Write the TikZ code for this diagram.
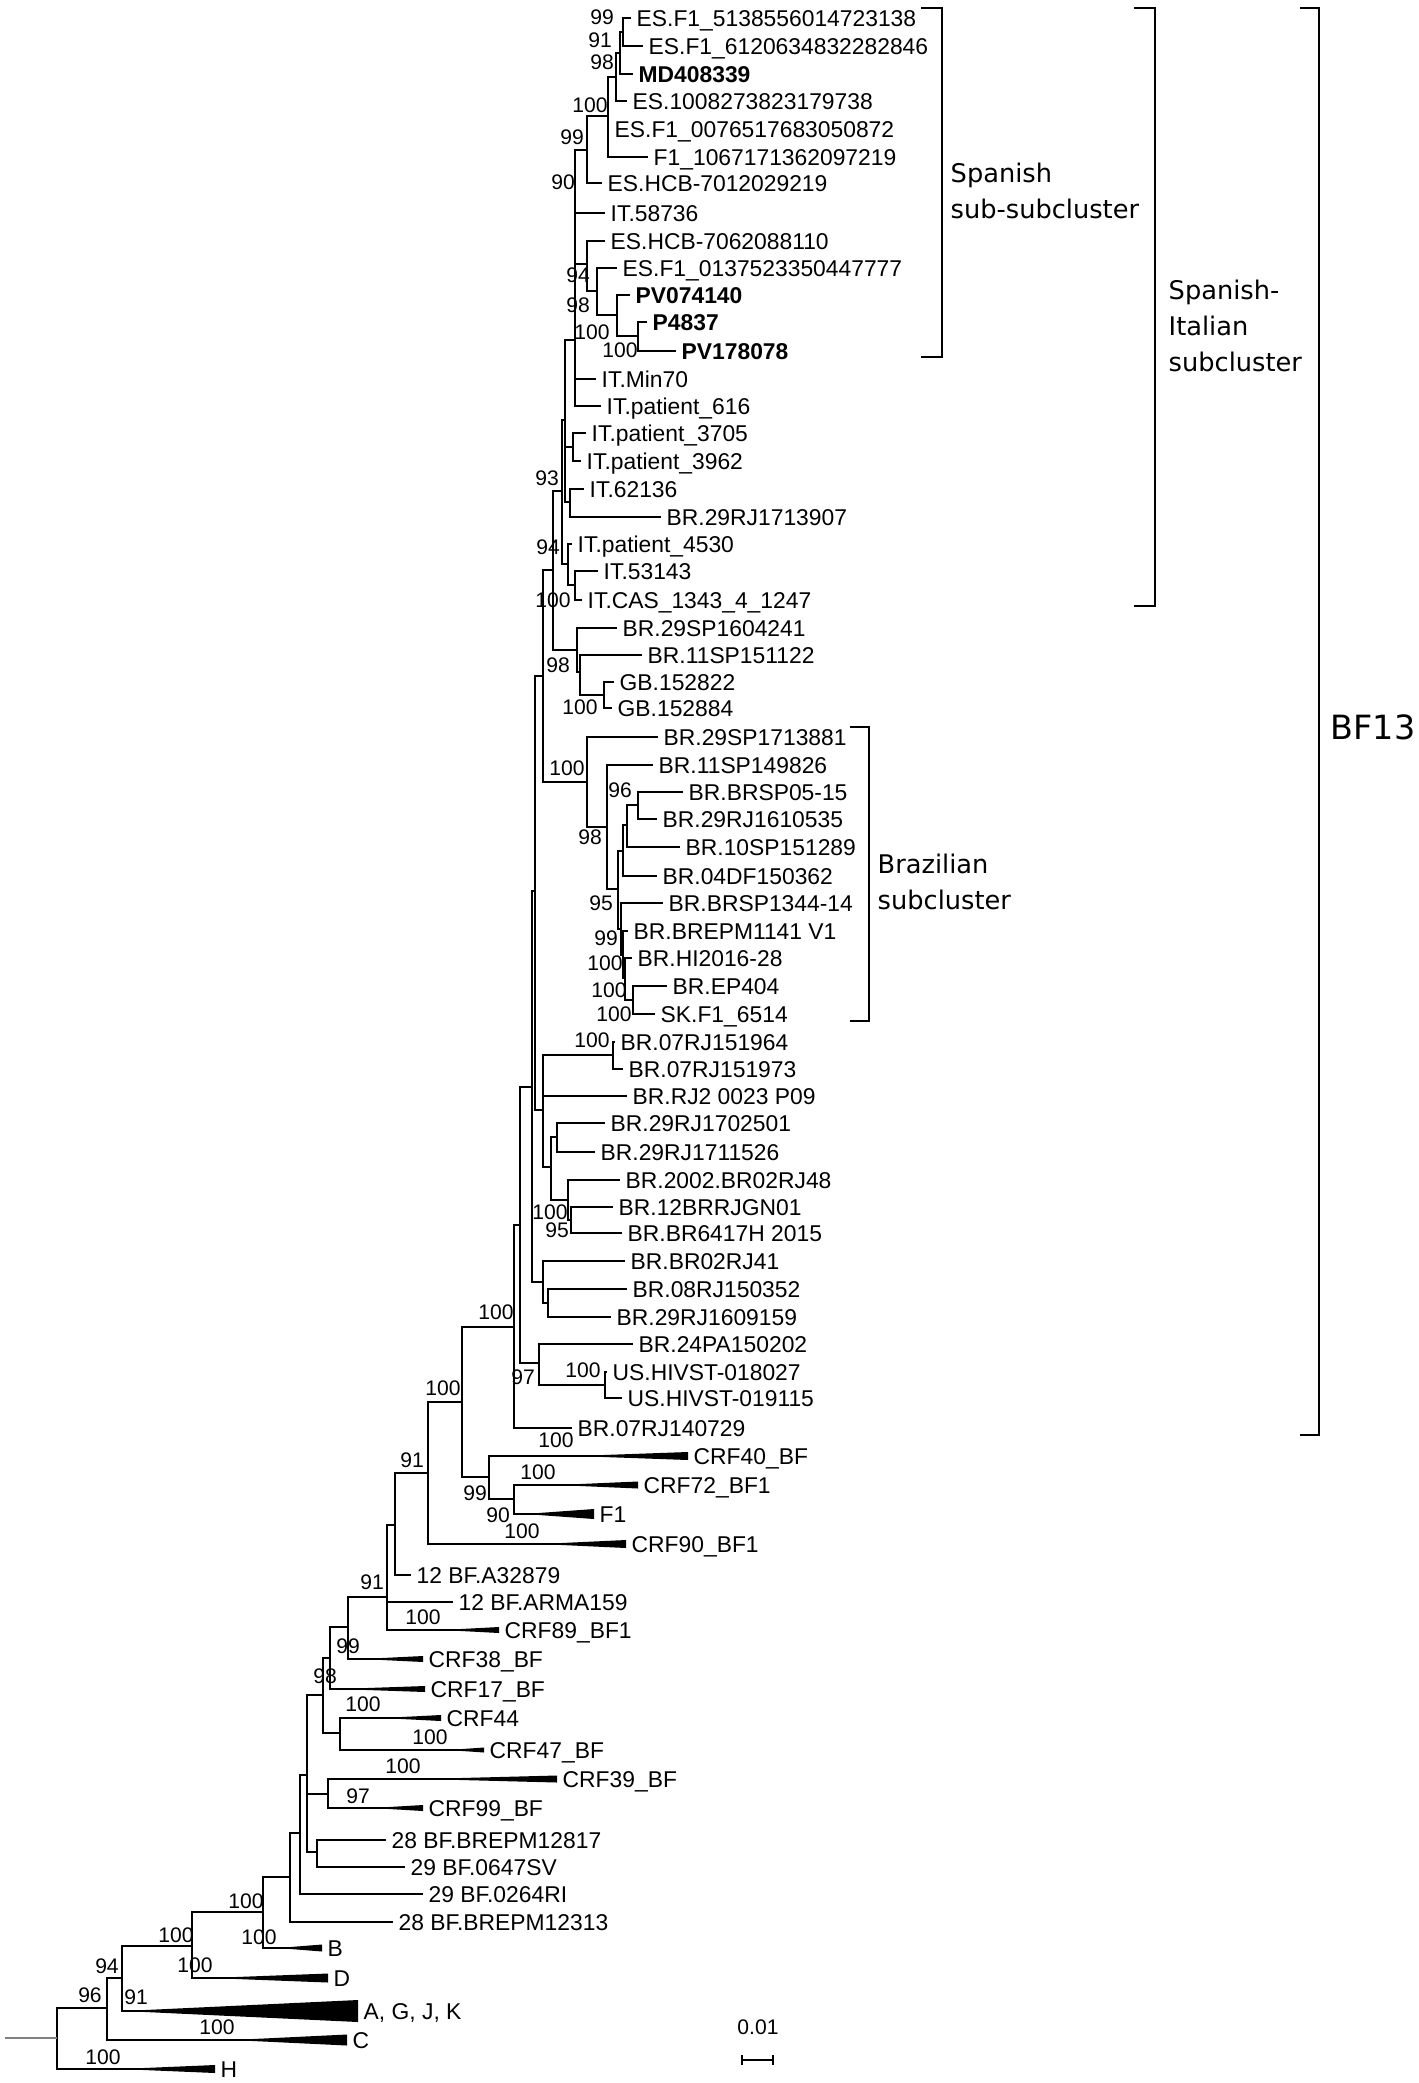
\documentclass[tikz,border=0pt]{standalone}
\usepackage{fontspec}
\setmainfont{Liberation Sans}
\newfontfamily\cladefont{DejaVu Sans}
\tikzset{branch/.style={line width=0.6pt},
	leaf/.style={anchor=west, inner xsep=0.5mm, inner ysep=0pt, text height=1.64mm, text depth=0pt, font=\fontsize{6.5}{7}\selectfont},
	boot/.style={inner sep=0pt, font=\fontsize{6}{7}\selectfont},
	bracket/.style={line width=0.7pt},
	clade/.style={anchor=west, align=left, inner sep=0pt, font=\cladefont\fontsize{7.3}{10.2}\selectfont}}

\begin{document}
\begin{tikzpicture}[x=0.1mm, y=-0.1mm]
		\useasboundingbox (0,0) rectangle (1418,2083);

		% internal nodes
		\coordinate (root) at (57,2038);
		\coordinate (stem) at (5,2038);
		\coordinate (n96) at (107,2008);
		\coordinate (n94) at (122,1978);
		\coordinate (n100a) at (192,1946);
		\coordinate (n100b) at (263,1912);
		\coordinate (na) at (290,1877);
		\coordinate (nb) at (300,1833);
		\coordinate (nc) at (307,1775);
		\coordinate (nd) at (317,1852);
		\coordinate (ne) at (328,1794);
		\coordinate (nf) at (323,1695);
		\coordinate (ng) at (340,1733);
		\coordinate (nh) at (330,1658);
		\coordinate (ni) at (348,1627);
		\coordinate (nj) at (387,1597);
		\coordinate (nk) at (395,1525);
		\coordinate (nl) at (428,1473);
		\coordinate (nm) at (462,1402);
		\coordinate (nn) at (489,1477);
		\coordinate (no) at (514,1499);
		\coordinate (np) at (514,1327);
		\coordinate (nr) at (520,1225);
		\coordinate (nq) at (539,1363);
		\coordinate (nus) at (605,1385);
		\coordinate (nK) at (532,1087);
		\coordinate (ny) at (543,1282);
		\coordinate (nz) at (548,1303);
		\coordinate (nJ) at (535,891);
		\coordinate (nM) at (543,1110);
		\coordinate (n07) at (613,1055);
		\coordinate (nN) at (551,1167);
		\coordinate (nrj) at (557,1137);
		\coordinate (nbr) at (568,1200);
		\coordinate (nw) at (571,1220);
		\coordinate (nB) at (543,676);
		\coordinate (nx) at (553,570);
		\coordinate (nt) at (577,650);
		\coordinate (nu) at (580,672);
		\coordinate (nv) at (604,695);
		\coordinate (nbrz) at (587,782);
		\coordinate (nb2) at (607,827);
		\coordinate (nL4) at (618,889);
		\coordinate (nc2) at (623,851);
		\coordinate (nc1) at (627,825);
		\coordinate (nsp) at (638,805);
		\coordinate (nL3) at (621,929);
		\coordinate (nL2) at (623,955);
		\coordinate (nL1) at (625,978);
		\coordinate (nep) at (633,1000);
		\coordinate (nSI) at (562,491);
		\coordinate (nD) at (568,564);
		\coordinate (n18) at (575,585);
		\coordinate (nC) at (565,420);
		\coordinate (n15) at (573,447);
		\coordinate (n16) at (570,502);
		\coordinate (nE) at (575,340);
		\coordinate (n13) at (587,264);
		\coordinate (n12) at (597,291);
		\coordinate (n11) at (617,315);
		\coordinate (n10) at (638,336);
		\coordinate (n5) at (587,150);
		\coordinate (n4) at (608,116);
		\coordinate (n3) at (616,77);
		\coordinate (n2) at (620,53);
		\coordinate (n1) at (623,32);

		% taxa
		\node[leaf] (es513) at (631,18) {ES.F1\_5138556014723138};
		\node[leaf] (es612) at (643,46) {ES.F1\_6120634832282846};
		\node[leaf] (md408) at (633,74) {\bfseries MD408339};
		\node[leaf] (es1008) at (627,101) {ES.1008273823179738};
		\node[leaf] (es0076) at (609,129) {ES.F1\_0076517683050872};
		\node[leaf] (f1067) at (648,157) {F1\_1067171362097219};
		\node[leaf] (hcb7012) at (602,183) {ES.HCB-7012029219};
		\node[leaf] (it58736) at (605,213) {IT.58736};
		\node[leaf] (hcb7062) at (605,241) {ES.HCB-7062088110};
		\node[leaf] (es0137) at (617,268) {ES.F1\_0137523350447777};
		\node[leaf] (pv074) at (630,295) {\bfseries PV074140};
		\node[leaf] (p4837) at (647,322) {\bfseries P4837};
		\node[leaf] (pv178) at (676,351) {\bfseries PV178078};
		\node[leaf] (itmin70) at (596,379) {IT.Min70};
		\node[leaf] (it616) at (601,406) {IT.patient\_616};
		\node[leaf] (it3705) at (586,433) {IT.patient\_3705};
		\node[leaf] (it3962) at (581,461) {IT.patient\_3962};
		\node[leaf] (it62136) at (584,489) {IT.62136};
		\node[leaf] (br1713907) at (661,517) {BR.29RJ1713907};
		\node[leaf] (it4530) at (572,544) {IT.patient\_4530};
		\node[leaf] (it53143) at (598,571) {IT.53143};
		\node[leaf] (itcas) at (582,600) {IT.CAS\_1343\_4\_1247};
		\node[leaf] (br1604241) at (617,628) {BR.29SP1604241};
		\node[leaf] (br151122) at (642,655) {BR.11SP151122};
		\node[leaf] (gb822) at (614,682) {GB.152822};
		\node[leaf] (gb884) at (612,708) {GB.152884};
		\node[leaf] (br1713881) at (658,737) {BR.29SP1713881};
		\node[leaf] (br149826) at (653,765) {BR.11SP149826};
		\node[leaf] (brsp0515) at (683,792) {BR.BRSP05-15};
		\node[leaf] (br1610535) at (657,819) {BR.29RJ1610535};
		\node[leaf] (br151289) at (680,847) {BR.10SP151289};
		\node[leaf] (br150362) at (657,876) {BR.04DF150362};
		\node[leaf] (brsp134414) at (663,903) {BR.BRSP1344-14};
		\node[leaf] (brepm1141) at (628,931) {BR.BREPM1141 V1};
		\node[leaf] (brhi2016) at (632,958) {BR.HI2016-28};
		\node[leaf] (brep404) at (667,986) {BR.EP404};
		\node[leaf] (sk6514) at (655,1014) {SK.F1\_6514};
		\node[leaf] (br151964) at (615,1042) {BR.07RJ151964};
		\node[leaf] (br151973) at (623,1069) {BR.07RJ151973};
		\node[leaf] (brrj2) at (627,1096) {BR.RJ2 0023 P09};
		\node[leaf] (br1702501) at (605,1123) {BR.29RJ1702501};
		\node[leaf] (br1711526) at (595,1152) {BR.29RJ1711526};
		\node[leaf] (br02rj48) at (620,1180) {BR.2002.BR02RJ48};
		\node[leaf] (brrjgn01) at (613,1207) {BR.12BRRJGN01};
		\node[leaf] (br6417h) at (622,1233) {BR.BR6417H 2015};
		\node[leaf] (br02rj41) at (625,1261) {BR.BR02RJ41};
		\node[leaf] (br150352) at (627,1289) {BR.08RJ150352};
		\node[leaf] (br1609159) at (611,1317) {BR.29RJ1609159};
		\node[leaf] (br150202) at (633,1344) {BR.24PA150202};
		\node[leaf] (us018027) at (607,1372) {US.HIVST-018027};
		\node[leaf] (us019115) at (622,1398) {US.HIVST-019115};
		\node[leaf] (br140729) at (572,1428) {BR.07RJ140729};
		\node[leaf] (crf40) at (688,1456) {CRF40\_BF};
		\node[leaf] (crf72) at (638,1485) {CRF72\_BF1};
		\node[leaf] (f1) at (594,1514) {F1};
		\node[leaf] (crf90) at (626,1544) {CRF90\_BF1};
		\node[leaf] (a32879) at (411,1575) {12 BF.A32879};
		\node[leaf] (arma159) at (453,1602) {12 BF.ARMA159};
		\node[leaf] (crf89) at (499,1630) {CRF89\_BF1};
		\node[leaf] (crf38) at (423,1659) {CRF38\_BF};
		\node[leaf] (crf17) at (425,1689) {CRF17\_BF};
		\node[leaf] (crf44) at (441,1718) {CRF44};
		\node[leaf] (crf47) at (484,1750) {CRF47\_BF};
		\node[leaf] (crf39) at (557,1779) {CRF39\_BF};
		\node[leaf] (crf99) at (423,1808) {CRF99\_BF};
		\node[leaf] (brepm12817) at (386,1840) {28 BF.BREPM12817};
		\node[leaf] (bf0647) at (405,1867) {29 BF.0647SV};
		\node[leaf] (bf0264) at (423,1894) {29 BF.0264RI};
		\node[leaf] (brepm12313) at (393,1922) {28 BF.BREPM12313};
		\node[leaf] (cladeB) at (322,1948) {B};
		\node[leaf] (cladeD) at (328,1978) {D};
		\node[leaf] (cladeAGJK) at (358,2011) {A, G, J, K};
		\node[leaf] (cladeC) at (347,2040) {C};
		\node[leaf] (cladeH) at (215,2069) {H};

		% branches
		\draw[branch] (n1) |- (es513) (n1) |- (es612);
		\draw[branch] (n2) |- (n1) (n2) |- (md408);
		\draw[branch] (n3) |- (n2) (n3) |- (es1008);
		\draw[branch] (n4) |- (n3) (n4) |- (es0076) (n4) |- (f1067);
		\draw[branch] (n5) |- (n4) (n5) |- (hcb7012);
		\draw[branch] (n10) |- (p4837) (n10) |- (pv178);
		\draw[branch] (n11) |- (pv074) (n11) |- (n10);
		\draw[branch] (n12) |- (es0137) (n12) |- (n11);
		\draw[branch] (n13) |- (hcb7062) (n13) |- (n12);
		\draw[branch] (nE) |- (n5) (nE) |- (it58736) (nE) |- (n13) (nE) |- (itmin70) (nE) |- (it616);
		\draw[branch] (n15) |- (it3705) (n15) |- (it3962);
		\draw[branch] (n16) |- (it62136) (n16) |- (br1713907);
		\draw[branch] (nC) |- (nE) (nC) |- (n15) (nC) |- (n16);
		\draw[branch] (n18) |- (it53143) (n18) |- (itcas);
		\draw[branch] (nD) |- (it4530) (nD) |- (n18);
		\draw[branch] (nSI) |- (nC) (nSI) |- (nD);
		\draw[branch] (nv) |- (gb822) (nv) |- (gb884);
		\draw[branch] (nu) |- (br151122) (nu) |- (nv);
		\draw[branch] (nt) |- (br1604241) (nt) |- (nu);
		\draw[branch] (nx) |- (nSI) (nx) |- (nt);
		\draw[branch] (nsp) |- (brsp0515) (nsp) |- (br1610535);
		\draw[branch] (nc1) |- (nsp) (nc1) |- (br151289);
		\draw[branch] (nc2) |- (nc1) (nc2) |- (br150362);
		\draw[branch] (nep) |- (brep404) (nep) |- (sk6514);
		\draw[branch] (nL1) |- (brhi2016) (nL1) |- (nep);
		\draw[branch] (nL2) |- (brepm1141) (nL2) |- (nL1);
		\draw[branch] (nL3) |- (brsp134414) (nL3) |- (nL2);
		\draw[branch] (nL4) |- (nc2) (nL4) |- (nL3);
		\draw[branch] (nb2) |- (br149826) (nb2) |- (nL4);
		\draw[branch] (nbrz) |- (br1713881) (nbrz) |- (nb2);
		\draw[branch] (nB) |- (nx) (nB) |- (nbrz);
		\draw[branch] (n07) |- (br151964) (n07) |- (br151973);
		\draw[branch] (nrj) |- (br1702501) (nrj) |- (br1711526);
		\draw[branch] (nw) |- (brrjgn01) (nw) |- (br6417h);
		\draw[branch] (nbr) |- (br02rj48) (nbr) |- (nw);
		\draw[branch] (nN) |- (nrj) (nN) |- (nbr);
		\draw[branch] (nM) |- (n07) (nM) |- (brrj2) (nM) |- (nN);
		\draw[branch] (nJ) |- (nB) (nJ) |- (nM);
		\draw[branch] (nz) |- (br150352) (nz) |- (br1609159);
		\draw[branch] (ny) |- (br02rj41) (ny) |- (nz);
		\draw[branch] (nK) |- (nJ) (nK) |- (ny);
		\draw[branch] (nus) |- (us018027) (nus) |- (us019115);
		\draw[branch] (nq) |- (br150202) (nq) |- (nus);
		\draw[branch] (nr) |- (nK) (nr) |- (nq);
		\draw[branch] (np) |- (nr) (np) |- (br140729);
		\draw[branch] (no) |- (crf72) (no) |- (f1);
		\draw[branch] (nn) |- (crf40) (nn) |- (no);
		\draw[branch] (nm) |- (np) (nm) |- (nn);
		\draw[branch] (nl) |- (nm) (nl) |- (crf90);
		\draw[branch] (nk) |- (nl) (nk) |- (a32879);
		\draw[branch] (nj) |- (nk) (nj) |- (arma159) (nj) |- (crf89);
		\draw[branch] (ni) |- (nj) (ni) |- (crf38);
		\draw[branch] (nh) |- (ni) (nh) |- (crf17);
		\draw[branch] (ng) |- (crf44) (ng) |- (crf47);
		\draw[branch] (nf) |- (nh) (nf) |- (ng);
		\draw[branch] (ne) |- (crf39) (ne) |- (crf99);
		\draw[branch] (nd) |- (brepm12817) (nd) |- (bf0647);
		\draw[branch] (nc) |- (nf) (nc) |- (ne) (nc) |- (nd);
		\draw[branch] (nb) |- (nc) (nb) |- (bf0264);
		\draw[branch] (na) |- (nb) (na) |- (brepm12313);
		\draw[branch] (n100b) |- (na) (n100b) |- (cladeB);
		\draw[branch] (n100a) |- (n100b) (n100a) |- (cladeD);
		\draw[branch] (n94) |- (n100a) (n94) |- (cladeAGJK);
		\draw[branch] (n96) |- (n94) (n96) |- (cladeC);
		\draw[branch] (root) |- (n96) (root) |- (cladeH);
		\draw[branch, gray] (stem) -- (root);

		% collapsed subtrees
		\coordinate (w40) at (575,1456);
		\coordinate (w72) at (557,1485);
		\coordinate (wf1) at (525,1514);
		\coordinate (w90) at (540,1544);
		\coordinate (w89) at (442,1630);
		\coordinate (w38) at (362,1659);
		\coordinate (w17) at (338,1689);
		\coordinate (w44) at (382,1718);
		\coordinate (w47) at (448,1750);
		\coordinate (w39) at (422,1779);
		\coordinate (w99) at (372,1808);
		\coordinate (wB) at (278,1948);
		\coordinate (wD) at (210,1978);
		\coordinate (wAGJK) at (124,2011);
		\coordinate (wC) at (232,2040);
		\coordinate (wH) at (120,2069);
		\fill (w40) -- ([yshift=0.4mm]crf40.west) -- ([yshift=-0.4mm]crf40.west) -- cycle;
		\fill (w72) -- ([yshift=0.35mm]crf72.west) -- ([yshift=-0.35mm]crf72.west) -- cycle;
		\fill (wf1) -- ([yshift=0.5mm]f1.west) -- ([yshift=-0.5mm]f1.west) -- cycle;
		\fill (w90) -- ([yshift=0.4mm]crf90.west) -- ([yshift=-0.4mm]crf90.west) -- cycle;
		\fill (w89) -- ([yshift=0.3mm]crf89.west) -- ([yshift=-0.3mm]crf89.west) -- cycle;
		\fill (w38) -- ([yshift=0.3mm]crf38.west) -- ([yshift=-0.3mm]crf38.west) -- cycle;
		\fill (w17) -- ([yshift=0.3mm]crf17.west) -- ([yshift=-0.3mm]crf17.west) -- cycle;
		\fill (w44) -- ([yshift=0.3mm]crf44.west) -- ([yshift=-0.3mm]crf44.west) -- cycle;
		\fill (w47) -- ([yshift=0.25mm]crf47.west) -- ([yshift=-0.25mm]crf47.west) -- cycle;
		\fill (w39) -- ([yshift=0.35mm]crf39.west) -- ([yshift=-0.35mm]crf39.west) -- cycle;
		\fill (w99) -- ([yshift=0.3mm]crf99.west) -- ([yshift=-0.3mm]crf99.west) -- cycle;
		\fill (wB) -- ([yshift=0.35mm]cladeB.west) -- ([yshift=-0.35mm]cladeB.west) -- cycle;
		\fill (wD) -- ([yshift=0.45mm]cladeD.west) -- ([yshift=-0.45mm]cladeD.west) -- cycle;
		\fill (wAGJK) -- ([yshift=1.1mm]cladeAGJK.west) -- ([yshift=-1.1mm]cladeAGJK.west) -- cycle;
		\fill (wC) -- ([yshift=0.55mm]cladeC.west) -- ([yshift=-0.55mm]cladeC.west) -- cycle;
		\fill (wH) -- ([yshift=0.4mm]cladeH.west) -- ([yshift=-0.4mm]cladeH.west) -- cycle;

		% bootstrap values
		\node[boot] (bs1) at (602,17) {99};
		\node[boot] (bs2) at (600,40) {91};
		\node[boot] (bs3) at (602,62) {98};
		\node[boot] (bs4) at (590,105) {100};
		\node[boot] (bs5) at (572,137) {99};
		\node[boot] (bs6) at (563,182) {90};
		\node[boot] (bs7) at (578,275) {94};
		\node[boot] (bs8) at (578,305) {98};
		\node[boot] (bs9) at (592,332) {100};
		\node[boot] (bs10) at (620,350) {100};
		\node[boot] (bs11) at (547,478) {93};
		\node[boot] (bs12) at (548,547) {94};
		\node[boot] (bs13) at (553,600) {100};
		\node[boot] (bs14) at (558,665) {98};
		\node[boot] (bs15) at (580,707) {100};
		\node[boot] (bs16) at (567,768) {100};
		\node[boot] (bs17) at (620,790) {96};
		\node[boot] (bs18) at (590,837) {98};
		\node[boot] (bs19) at (601,903) {95};
		\node[boot] (bs20) at (606,938) {99};
		\node[boot] (bs21) at (605,963) {100};
		\node[boot] (bs22) at (609,990) {100};
		\node[boot] (bs23) at (614,1014) {100};
		\node[boot] (bs24) at (592,1040) {100};
		\node[boot] (bs25) at (550,1212) {100};
		\node[boot] (bs26) at (557,1230) {95};
		\node[boot] (bs27) at (496,1312) {100};
		\node[boot] (bs28) at (583,1370) {100};
		\node[boot] (bs29) at (523,1377) {97};
		\node[boot] (bs30) at (443,1388) {100};
		\node[boot] (bs31) at (556,1440) {100};
		\node[boot] (bs32) at (412,1460) {91};
		\node[boot] (bs33) at (538,1472) {100};
		\node[boot] (bs34) at (475,1493) {99};
		\node[boot] (bs35) at (498,1515) {90};
		\node[boot] (bs36) at (522,1531) {100};
		\node[boot] (bs37) at (372,1582) {91};
		\node[boot] (bs38) at (423,1617) {100};
		\node[boot] (bs39) at (348,1646) {99};
		\node[boot] (bs40) at (325,1676) {98};
		\node[boot] (bs41) at (363,1704) {100};
		\node[boot] (bs42) at (430,1737) {100};
		\node[boot] (bs43) at (403,1766) {100};
		\node[boot] (bs44) at (358,1796) {97};
		\node[boot] (bs45) at (246,1901) {100};
		\node[boot] (bs46) at (176,1935) {100};
		\node[boot] (bs47) at (259,1937) {100};
		\node[boot] (bs48) at (195,1965) {100};
		\node[boot] (bs49) at (107,1966) {94};
		\node[boot] (bs50) at (90,1995) {96};
		\node[boot] (bs51) at (136,1997) {91};
		\node[boot] (bs52) at (217,2027) {100};
		\node[boot] (bs53) at (103,2057) {100};

		% clusters
		\coordinate (spTop) at (921,8);
		\coordinate (spMid) at (942,182);
		\coordinate (spBot) at (921,357);
		\draw[bracket] (spTop) -| (spMid) |- (spBot);
		\node[clade] (spLabel) at (950,191) {Spanish\\sub-subcluster};

		\coordinate (siTop) at (1134,8);
		\coordinate (siMid) at (1155,307);
		\coordinate (siBot) at (1134,606);
		\draw[bracket] (siTop) -| (siMid) |- (siBot);
		\node[clade] (siLabel) at (1168,326) {Spanish-\\Italian\\subcluster};

		\coordinate (bzTop) at (850,727);
		\coordinate (bzMid) at (869,874);
		\coordinate (bzBot) at (850,1021);
		\draw[bracket] (bzTop) -| (bzMid) |- (bzBot);
		\node[clade] (bzLabel) at (877,882) {Brazilian\\subcluster};

		\coordinate (bfTop) at (1300,8);
		\coordinate (bfMid) at (1319,721);
		\coordinate (bfBot) at (1300,1435);
		\draw[bracket] (bfTop) -| (bfMid) |- (bfBot);
		\node[inner sep=0pt, font=\cladefont\fontsize{9.5}{11}\selectfont] (bfLabel) at (1373,727) {BF13};

		% scale
		\coordinate (sbL) at (742,2060);
		\coordinate (sbR) at (773,2060);
		\draw[branch] (sbL) -- (sbR);
		\draw[branch] ([yshift=0.5mm]sbL) -- ([yshift=-0.5mm]sbL);
		\draw[branch] ([yshift=0.5mm]sbR) -- ([yshift=-0.5mm]sbR);
		\node[boot] (sbLabel) at (758,2027) {0.01};
	\end{tikzpicture}
\end{document}
